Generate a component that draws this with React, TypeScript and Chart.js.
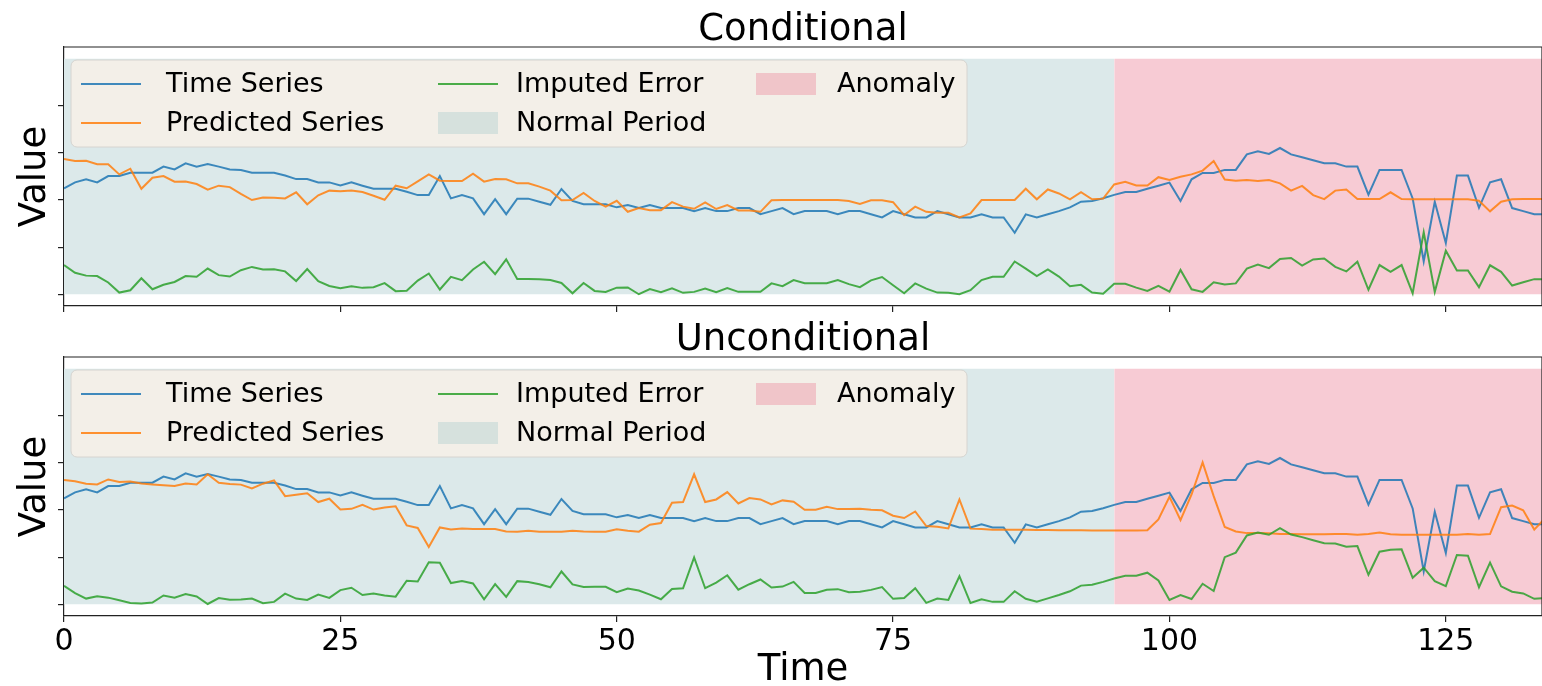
import React, { useEffect, useRef } from "react";
import { Chart, registerables } from "chart.js";

Chart.register(...registerables);

const FONT = '"DejaVu Sans", "Liberation Sans", sans-serif';

// ---------------- data ----------------
const timeSteps: number[] = Array.from({ length: 135 }, (_, i) => i);

const timeSeries = [
  45.0, 47.5, 48.8, 47.5, 50.2, 50.2, 51.6, 51.6, 51.6, 54.2,
  53.0, 55.6, 54.2, 55.3, 54.2, 53.0, 52.8, 51.6, 51.6, 51.6,
  50.4, 48.9, 48.9, 47.5, 47.5, 46.2, 47.5, 46.1, 44.8, 44.8,
  44.8, 43.5, 42.1, 42.1, 50.2, 40.7, 42.1, 40.7, 34.0, 40.4,
  34.0, 40.6, 40.6, 39.3, 38.0, 44.7, 39.6, 38.2, 38.2, 38.2,
  36.9, 37.9, 36.6, 37.9, 36.6, 36.6, 36.6, 35.3, 36.6, 35.3,
  35.3, 36.6, 36.6, 34.0, 35.3, 36.6, 34.0, 35.3, 35.3, 35.3,
  34.0, 35.3, 35.3, 34.0, 32.6, 35.3, 34.0, 32.6, 32.6, 35.3,
  34.0, 32.6, 32.6, 34.0, 32.6, 32.6, 26.1, 33.9, 32.6, 34.0,
  35.3, 36.9, 39.3, 39.6, 40.8, 42.2, 43.4, 43.4, 44.8, 46.1,
  47.4, 39.6, 48.8, 51.5, 51.5, 52.8, 52.8, 59.4, 60.7, 59.6,
  62.1, 59.4, 58.2, 56.9, 55.6, 55.6, 54.2, 54.2, 42.3, 52.8,
  52.8, 52.8, 40.7, 14.0, 39.3, 21.8, 50.4, 50.4, 36.7, 47.5,
  48.8, 36.6, 35.3, 34.0, 34.0,
];

const predictedConditional = [
  57.4, 56.6, 56.7, 55.2, 55.2, 50.9, 53.3, 44.8, 49.5, 50.2,
  47.8, 47.9, 46.8, 44.4, 46.1, 45.5, 42.6, 40.0, 41.1, 41.0,
  40.7, 43.3, 38.2, 42.0, 44.0, 43.7, 44.1, 43.4, 41.8, 40.1,
  46.1, 45.0, 47.9, 50.9, 48.2, 48.1, 48.1, 51.2, 47.8, 48.9,
  48.8, 47.1, 47.1, 45.7, 44.0, 39.9, 40.0, 43.0, 39.6, 37.2,
  39.7, 35.0, 36.6, 35.7, 35.7, 39.1, 37.2, 36.3, 39.0, 36.2,
  37.9, 35.6, 35.6, 35.0, 39.9, 40.0, 40.0, 40.0, 40.0, 40.0,
  40.0, 39.6, 38.3, 39.9, 39.9, 39.1, 33.6, 37.2, 35.0, 34.6,
  34.6, 32.6, 34.3, 40.0, 40.0, 40.0, 40.0, 44.8, 40.3, 44.5,
  42.8, 40.3, 43.3, 40.3, 40.6, 46.6, 47.8, 46.2, 46.2, 49.7,
  48.5, 49.9, 50.9, 52.5, 56.6, 48.7, 48.2, 48.5, 48.1, 48.5,
  47.1, 44.0, 46.0, 42.1, 40.4, 44.0, 44.5, 40.4, 40.4, 40.4,
  43.3, 40.4, 40.3, 40.3, 40.3, 40.3, 40.3, 40.3, 39.7, 35.2,
  39.3, 40.3, 40.4, 40.4, 40.4,
];

const errorConditional = [
  12.4, 9.1, 7.9, 7.7, 5.0, 0.7, 1.7, 6.8, 2.1, 4.0,
  5.2, 7.7, 7.4, 10.9, 8.1, 7.5, 10.2, 11.6, 10.5, 10.6,
  9.7, 5.6, 10.7, 5.5, 3.5, 2.5, 3.4, 2.7, 3.0, 4.7,
  1.3, 1.5, 5.8, 8.8, 2.0, 7.4, 6.0, 10.5, 13.8, 8.5,
  14.8, 6.5, 6.5, 6.4, 6.0, 4.8, 0.4, 4.8, 1.4, 1.0,
  2.8, 2.9, 0.0, 2.2, 0.9, 2.5, 0.6, 1.0, 2.4, 0.9,
  2.6, 1.0, 1.0, 1.0, 4.6, 3.4, 6.0, 4.7, 4.7, 4.7,
  6.0, 4.3, 3.0, 5.9, 7.3, 3.8, 0.4, 4.6, 2.4, 0.7,
  0.6, 0.0, 1.7, 6.0, 7.4, 7.4, 13.9, 10.9, 7.7, 10.5,
  7.5, 3.4, 4.0, 0.7, 0.2, 4.4, 4.4, 2.8, 1.4, 3.6,
  1.1, 10.3, 2.1, 1.0, 5.1, 4.1, 4.6, 10.9, 12.6, 11.1,
  15.0, 15.4, 12.2, 14.8, 15.2, 11.6, 9.7, 13.8, 1.9, 12.4,
  9.5, 12.4, 0.4, 26.3, 1.0, 18.5, 10.1, 10.1, 3.0, 12.3,
  9.5, 3.7, 5.1, 6.4, 6.4,
];

const predictedUnconditional = [
  52.8, 52.2, 51.2, 50.9, 53.0, 51.9, 52.1, 51.3, 50.9, 50.5,
  50.2, 51.3, 50.9, 55.2, 51.6, 51.1, 50.8, 49.2, 51.2, 52.6,
  45.9, 46.5, 47.1, 43.4, 44.8, 40.2, 40.5, 42.2, 40.2, 41.1,
  41.6, 33.5, 32.4, 24.3, 32.6, 31.7, 32.2, 31.9, 31.9, 31.9,
  30.9, 30.8, 31.2, 30.8, 30.8, 30.8, 31.2, 30.9, 30.8, 30.8,
  31.8, 31.2, 30.8, 33.8, 34.5, 43.1, 43.4, 55.2, 43.4, 44.5,
  47.6, 42.8, 45.1, 44.5, 42.4, 44.1, 43.5, 40.1, 40.1, 41.4,
  40.4, 40.4, 40.6, 40.1, 39.9, 37.6, 36.6, 39.4, 33.2, 32.9,
  32.2, 44.5, 32.1, 31.9, 31.6, 31.6, 31.6, 31.6, 31.5, 31.5,
  31.4, 31.4, 31.4, 31.3, 31.3, 31.3, 31.3, 31.3, 31.4, 36.0,
  45.6, 35.7, 46.6, 60.2, 45.9, 32.8, 30.9, 30.2, 30.2, 30.1,
  29.8, 29.8, 29.7, 29.7, 29.7, 29.8, 29.8, 29.5, 29.8, 30.5,
  29.7, 29.5, 29.5, 29.5, 29.5, 29.5, 29.5, 29.8, 29.5, 29.8,
  41.2, 41.9, 39.9, 31.7, 36.6,
];

const errorUnconditional = [
  7.8, 4.7, 2.4, 3.4, 2.8, 1.7, 0.5, 0.3, 0.7, 3.7,
  2.8, 4.3, 3.3, 0.1, 2.6, 1.9, 2.0, 2.4, 0.4, 1.0,
  4.5, 2.4, 1.8, 4.1, 2.7, 6.0, 7.0, 3.9, 4.6, 3.7,
  3.2, 10.0, 9.7, 17.8, 17.6, 9.0, 9.9, 8.8, 2.1, 8.5,
  3.1, 9.8, 9.4, 8.5, 7.2, 13.9, 8.4, 7.3, 7.4, 7.4,
  5.1, 6.7, 5.8, 4.1, 2.1, 6.5, 6.8, 19.9, 6.8, 9.2,
  12.3, 6.2, 8.5, 10.5, 7.1, 7.5, 9.5, 4.8, 4.8, 6.1,
  6.4, 5.1, 5.3, 6.1, 7.3, 2.3, 2.6, 6.8, 0.6, 2.4,
  1.8, 11.9, 0.5, 2.1, 1.0, 1.0, 5.5, 2.3, 1.1, 2.5,
  3.9, 5.5, 7.9, 8.3, 9.5, 10.9, 12.1, 12.1, 13.4, 10.1,
  1.8, 3.9, 2.2, 8.7, 5.6, 20.0, 21.9, 29.2, 30.5, 29.5,
  32.3, 29.6, 28.5, 27.2, 25.9, 25.8, 24.4, 24.7, 12.5, 22.3,
  23.1, 23.3, 11.2, 15.5, 9.8, 7.7, 20.9, 20.6, 7.2, 17.7,
  7.6, 5.3, 4.6, 2.3, 2.6,
];

const normalPeriod = [0, 95];
const anomalyPeriod = [95, 134];
const shadeRange = [0, 100];

const xTicks = [0, 25, 50, 75, 100, 125];
const yTicks = [0, 20, 40, 60, 80];
const xRange = [0, 133.7];
const yRange = [-5, 105];

const panelTitles = ["Conditional", "Unconditional"];
const seriesLabels = ["Time Series", "Predicted Series", "Imputed Error"];
const regionLabels = ["Normal Period", "Anomaly"];
const yAxisLabel = "Value";
const xAxisLabel = "Time";

// ---------------- styles ----------------
const C_BLUE = "rgba(31,119,180,0.85)";
const C_ORANGE = "rgba(255,127,14,0.85)";
const C_GREEN = "rgba(44,160,44,0.85)";
const C_NORMAL = "rgb(220,233,234)";
const C_ANOM = "rgb(247,203,212)";
const C_LEG_BG = "rgb(243,239,232)";
const C_LEG_EDGE = "rgb(214,212,208)";
const C_LEG_NORMAL = "rgb(214,225,221)";
const C_LEG_ANOM = "rgb(240,197,201)";
const C_SPINE = "#222";

function toXY(vals: number[]) {
  return vals.map((v, i) => ({ x: timeSteps[i], y: v }));
}

function decorPlugin(title: string, showXLabel: boolean) {
  return {
    id: "decor",
    afterDraw(chart: any) {
      const { ctx, chartArea: ca } = chart;
      ctx.save();
      // top + right spines
      ctx.strokeStyle = C_SPINE;
      ctx.lineWidth = 1.2;
      ctx.beginPath();
      ctx.moveTo(ca.left, ca.top);
      ctx.lineTo(ca.right, ca.top);
      ctx.lineTo(ca.right, ca.bottom);
      ctx.stroke();

      // panel title
      ctx.fillStyle = "#000";
      ctx.font = `37px ${FONT}`;
      ctx.textAlign = "center";
      ctx.textBaseline = "alphabetic";
      ctx.fillText(title, (ca.left + ca.right) / 2, ca.top - 7);

      // y label
      ctx.save();
      ctx.translate(45, (ca.top + ca.bottom) / 2);
      ctx.rotate(-Math.PI / 2);
      ctx.fillText(yAxisLabel, 0, 0);
      ctx.restore();

      if (showXLabel) {
        ctx.fillText(xAxisLabel, (ca.left + ca.right) / 2, ca.bottom + 64);
      }

      // legend
      const bx = ca.left + 7;
      const by = ca.top + 13;
      const bw = 896;
      const bh = 87;
      ctx.beginPath();
      ctx.roundRect(bx, by, bw, bh, 6);
      ctx.fillStyle = C_LEG_BG;
      ctx.fill();
      ctx.strokeStyle = C_LEG_EDGE;
      ctx.lineWidth = 1;
      ctx.stroke();

      const colX = [10, 367, 685];
      const textX = [95, 445, 766];
      const rowY = [24, 63];
      const handle = 60;
      const entries = [
        { label: seriesLabels[0], kind: "line", color: C_BLUE, c: 0, r: 0 },
        { label: seriesLabels[1], kind: "line", color: C_ORANGE, c: 0, r: 1 },
        { label: seriesLabels[2], kind: "line", color: C_GREEN, c: 1, r: 0 },
        { label: regionLabels[0], kind: "patch", color: C_LEG_NORMAL, c: 1, r: 1 },
        { label: regionLabels[1], kind: "patch", color: C_LEG_ANOM, c: 2, r: 0 },
      ];
      ctx.font = `27px ${FONT}`;
      ctx.textAlign = "left";
      ctx.textBaseline = "middle";
      for (const e of entries) {
        const x0 = bx + colX[e.c];
        const y0 = by + rowY[e.r];
        if (e.kind === "line") {
          ctx.strokeStyle = e.color;
          ctx.lineWidth = 2;
          ctx.beginPath();
          ctx.moveTo(x0, y0);
          ctx.lineTo(x0 + handle, y0);
          ctx.stroke();
        } else {
          ctx.fillStyle = e.color;
          ctx.fillRect(x0, y0 - 11, handle, 22);
        }
        ctx.fillStyle = "#000";
        ctx.fillText(e.label, bx + textX[e.c], y0 + 1);
      }
      ctx.restore();
    },
  };
}

function makeChart(
  canvas: HTMLCanvasElement,
  title: string,
  predicted: number[],
  error: number[],
  bottom: boolean
) {
  const lineDs = (label: string, vals: number[], color: string, order: number) => ({
    label,
    data: toXY(vals),
    borderColor: color,
    backgroundColor: color,
    borderWidth: 2,
    pointRadius: 0,
    tension: 0,
    fill: false,
    order,
  });
  const shadeDs = (label: string, range: number[], color: string) => ({
    label,
    data: [
      { x: range[0], y: shadeRange[1] },
      { x: range[1], y: shadeRange[1] },
    ],
    borderWidth: 0,
    borderColor: "rgba(0,0,0,0)",
    backgroundColor: color,
    pointRadius: 0,
    fill: { value: shadeRange[0] },
    order: 10,
  });

  const tickGrid = {
    drawOnChartArea: false,
    drawTicks: true,
    tickLength: 6,
    color: C_SPINE,
    lineWidth: 1.2,
  };

  return new Chart(canvas, {
    type: "line",
    data: {
      datasets: [
        lineDs(seriesLabels[0], timeSeries, C_BLUE, 3),
        lineDs(seriesLabels[1], predicted, C_ORANGE, 2),
        lineDs(seriesLabels[2], error, C_GREEN, 1),
        shadeDs(regionLabels[0], normalPeriod, C_NORMAL),
        shadeDs(regionLabels[1], anomalyPeriod, C_ANOM),
      ] as any,
    },
    options: {
      responsive: false,
      maintainAspectRatio: false,
      animation: false,
      devicePixelRatio: 1,
      events: [],
      layout: {
        padding: { top: bottom ? 43 : 47, left: 0, right: 0, bottom: 0 },
      },
      plugins: {
        legend: { display: false },
        tooltip: { enabled: false },
        title: { display: false },
      },
      scales: {
        x: {
          type: "linear",
          min: xRange[0],
          max: xRange[1],
          afterBuildTicks: (s: any) => {
            s.ticks = xTicks.map((v) => ({ value: v }));
          },
          afterFit: (s: any) => {
            s.height = bottom ? 70 : 8;
          },
          grid: tickGrid,
          border: { display: true, color: C_SPINE, width: 1.2 },
          ticks: {
            display: bottom,
            autoSkip: false,
            maxRotation: 0,
            padding: 2,
            color: "#000",
            font: { family: FONT, size: 30 },
          },
        },
        y: {
          type: "linear",
          min: yRange[0],
          max: yRange[1],
          afterBuildTicks: (s: any) => {
            s.ticks = yTicks.map((v) => ({ value: v }));
          },
          afterFit: (s: any) => {
            s.width = 64;
          },
          grid: tickGrid,
          border: { display: true, color: C_SPINE, width: 1.2 },
          ticks: { display: false },
        },
      },
    } as any,
    plugins: [decorPlugin(title, bottom)],
  });
}

export default function App() {
  const topRef = useRef<HTMLCanvasElement>(null);
  const botRef = useRef<HTMLCanvasElement>(null);

  useEffect(() => {
    const c1 = makeChart(topRef.current!, panelTitles[0], predictedConditional, errorConditional, false);
    const c2 = makeChart(botRef.current!, panelTitles[1], predictedUnconditional, errorUnconditional, true);
    return () => {
      c1.destroy();
      c2.destroy();
    };
  }, []);

  return (
    <div
      style={{
        position: "absolute",
        left: 0,
        top: 0,
        width: 1542,
        height: 686,
        background: "#fff",
        overflow: "hidden",
      }}
    >
      <canvas
        ref={topRef}
        width={1542}
        height={314}
        style={{ position: "absolute", left: 0, top: 0, width: 1542, height: 314 }}
      />
      <canvas
        ref={botRef}
        width={1542}
        height={372}
        style={{ position: "absolute", left: 0, top: 314, width: 1542, height: 372 }}
      />
    </div>
  );
}
